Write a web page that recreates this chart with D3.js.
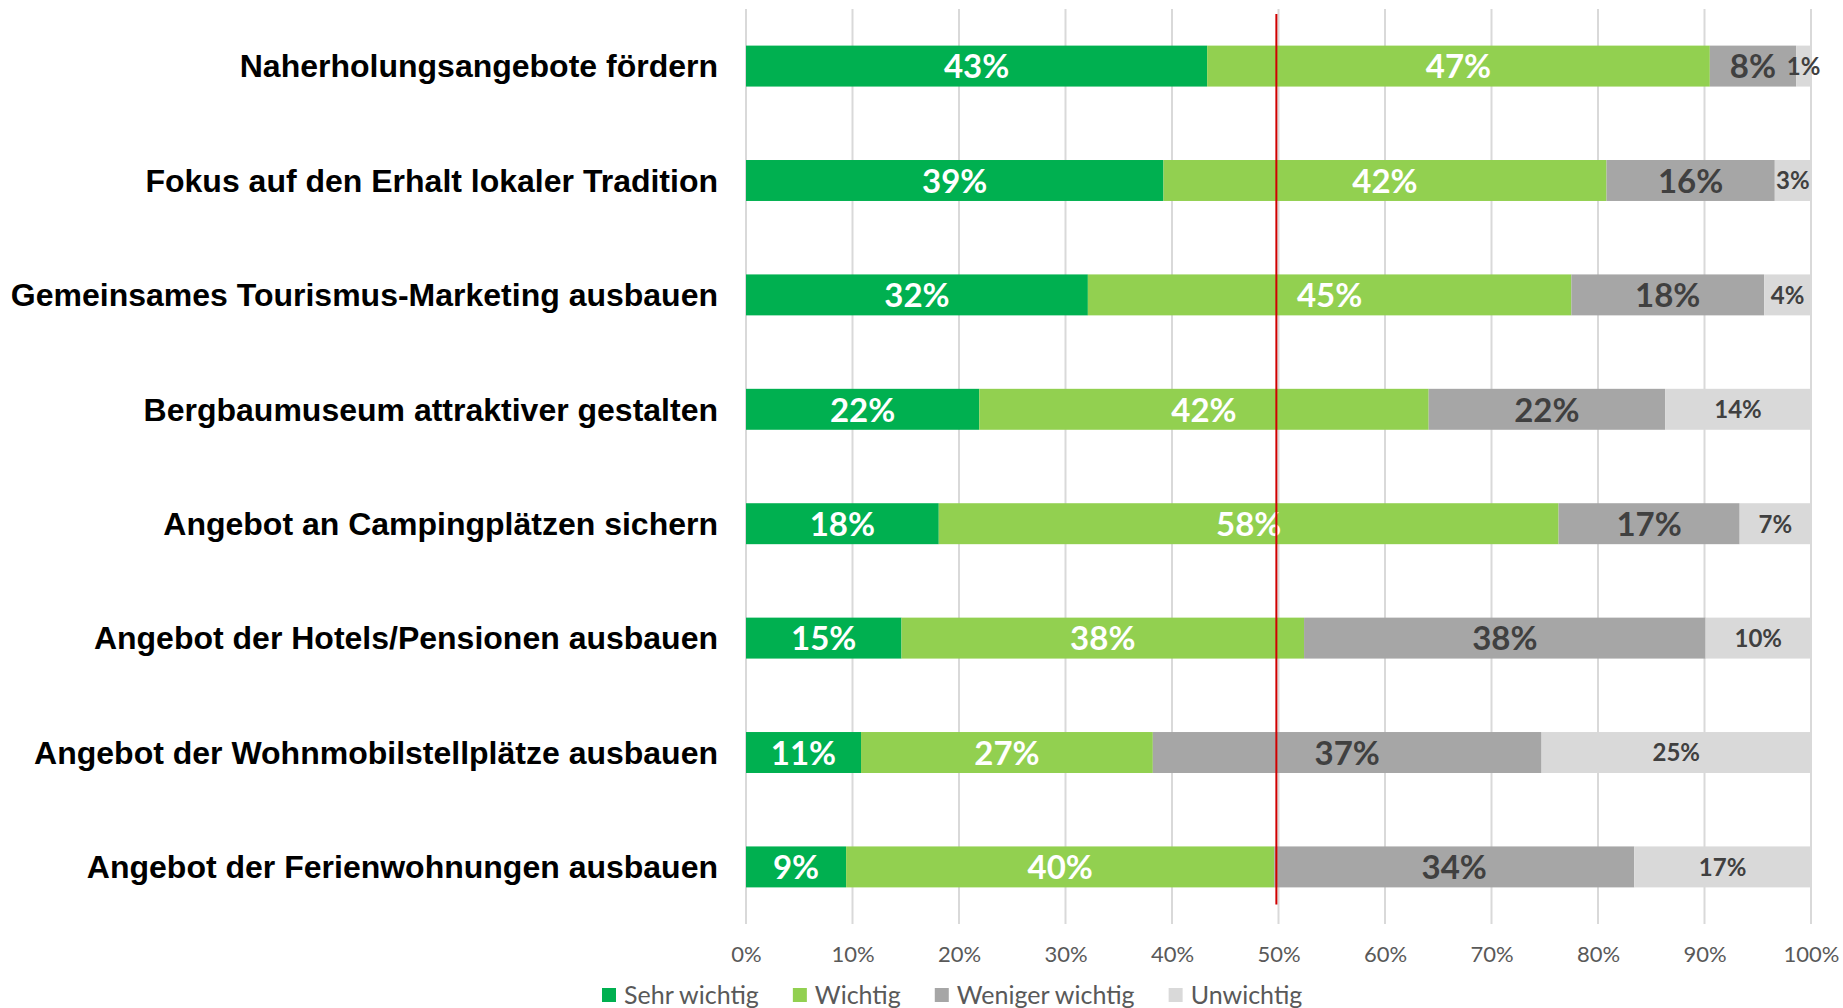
<!DOCTYPE html>
<html>
<head>
<meta charset="utf-8">
<script src="https://cdn.jsdelivr.net/npm/d3@7"></script>
<style>
  body { margin: 0; background: #fff; }
  svg { display: block; }
</style>
</head>
<body>
<div id="chart"></div>
<script>
// data (shares in %)
const categories = [
  'Naherholungsangebote fördern',
  'Fokus auf den Erhalt lokaler Tradition',
  'Gemeinsames Tourismus-Marketing ausbauen',
  'Bergbaumuseum attraktiver gestalten',
  'Angebot an Campingplätzen sichern',
  'Angebot der Hotels/Pensionen ausbauen',
  'Angebot der Wohnmobilstellplätze ausbauen',
  'Angebot der Ferienwohnungen ausbauen'
];
const seriesNames = ['Sehr wichtig', 'Wichtig', 'Weniger wichtig', 'Unwichtig'];
const sehrWichtig = [43.3, 39.2, 32.1, 21.9, 18.1, 14.6, 10.8, 9.4];
const wichtig = [47.2, 41.6, 45.4, 42.2, 58.2, 37.8, 27.4, 40.2];
const wenigerWichtig = [8.1, 15.8, 18.1, 22.2, 17.0, 37.7, 36.5, 33.8];
const unwichtig = [1.4, 3.4, 4.4, 13.7, 6.7, 9.9, 25.3, 16.6];
const tickValues = [0, 10, 20, 30, 40, 50, 60, 70, 80, 90, 100];
const referenceLine = 49.8;

const colors = ['#00B050', '#92D050', '#A6A6A6', '#D9D9D9'];
const labelColors = ['#ffffff', '#ffffff', '#404040', '#404040'];
const labelSizes = [33, 33, 33, 24];

const width = 1843;
const height = 1008;

const svg = d3.select('#chart')
  .append('svg')
  .attr('width', width)
  .attr('height', height);

// scales
const x = d3.scaleLinear()
  .domain([0, 100])
  .range([746, 1811]);

const y = d3.scaleBand()
  .domain(categories)
  .range([9, 924])
  .paddingInner(0.642)
  .paddingOuter(0.32);

// gridlines
svg.append('g')
  .selectAll('line')
  .data(tickValues)
  .enter()
  .append('line')
  .attr('x1', d => x(d))
  .attr('x2', d => x(d))
  .attr('y1', y.range()[0])
  .attr('y2', y.range()[1])
  .attr('stroke', '#D9D9D9')
  .attr('stroke-width', 2);

// stacked rows
const rows = categories.map((c, i) => {
  const vals = [sehrWichtig[i], wichtig[i], wenigerWichtig[i], unwichtig[i]];
  let acc = 0;
  return vals.map((v, s) => {
    const seg = { cat: c, series: s, value: v, x0: acc, x1: acc + v };
    acc += v;
    return seg;
  });
});
const segments = rows.flat();

svg.append('g')
  .selectAll('rect')
  .data(segments)
  .enter()
  .append('rect')
  .attr('x', d => x(d.x0))
  .attr('y', d => y(d.cat))
  .attr('width', d => x(d.x1) - x(d.x0))
  .attr('height', y.bandwidth())
  .attr('fill', d => colors[d.series]);

svg.append('g')
  .selectAll('text')
  .data(segments)
  .enter()
  .append('text')
  .attr('x', d => x((d.x0 + d.x1) / 2))
  .attr('y', d => y(d.cat) + y.bandwidth() / 2)
  .attr('dy', '0.37em')
  .attr('text-anchor', 'middle')
  .attr('font-family', 'Lato, sans-serif')
  .attr('font-weight', 'bold')
  .attr('font-size', d => labelSizes[d.series])
  .attr('fill', d => labelColors[d.series])
  .text(d => Math.round(d.value) + '%');

// red reference line
svg.append('line')
  .attr('x1', x(referenceLine))
  .attr('x2', x(referenceLine))
  .attr('y1', y.range()[0] + 5)
  .attr('y2', y(categories[categories.length - 1]) + y.bandwidth() + 17)
  .attr('stroke', '#D00000')
  .attr('stroke-width', 2);

// category labels
const yAxis = d3.axisLeft(y).tickSize(0).tickPadding(0);
const yAxisGroup = svg.append('g')
  .attr('transform', 'translate(718, 1)')
  .call(yAxis);
yAxisGroup.select('.domain').remove();
yAxisGroup.selectAll('text')
  .attr('font-family', '"Liberation Sans", Arial, sans-serif')
  .attr('font-weight', 'bold')
  .attr('font-size', 32)
  .attr('fill', '#000');

// x axis tick labels
const xAxis = d3.axisBottom(x)
  .tickValues(tickValues)
  .tickSize(0)
  .tickPadding(0)
  .tickFormat(d => d + '%');
const xAxisGroup = svg.append('g')
  .attr('transform', 'translate(0, 946)')
  .call(xAxis);
xAxisGroup.select('.domain').remove();
xAxisGroup.selectAll('text')
  .attr('font-family', 'Lato, sans-serif')
  .attr('font-size', 22)
  .attr('fill', '#595959');

// legend
const legend = svg.append('g').attr('transform', 'translate(602, 995)');
let lx = 0;
seriesNames.forEach((name, i) => {
  const item = legend.append('g').attr('transform', `translate(${lx}, 0)`);
  item.append('rect')
    .attr('x', 0)
    .attr('y', -7)
    .attr('width', 14)
    .attr('height', 14)
    .attr('fill', colors[i]);
  const t = item.append('text')
    .attr('x', 22)
    .attr('y', 0)
    .attr('dy', '0.36em')
    .attr('font-family', 'Lato, sans-serif')
    .attr('font-size', 25)
    .attr('fill', '#595959')
    .text(name);
  lx += 22 + t.node().getComputedTextLength() + 34;
});
</script>
</body>
</html>
